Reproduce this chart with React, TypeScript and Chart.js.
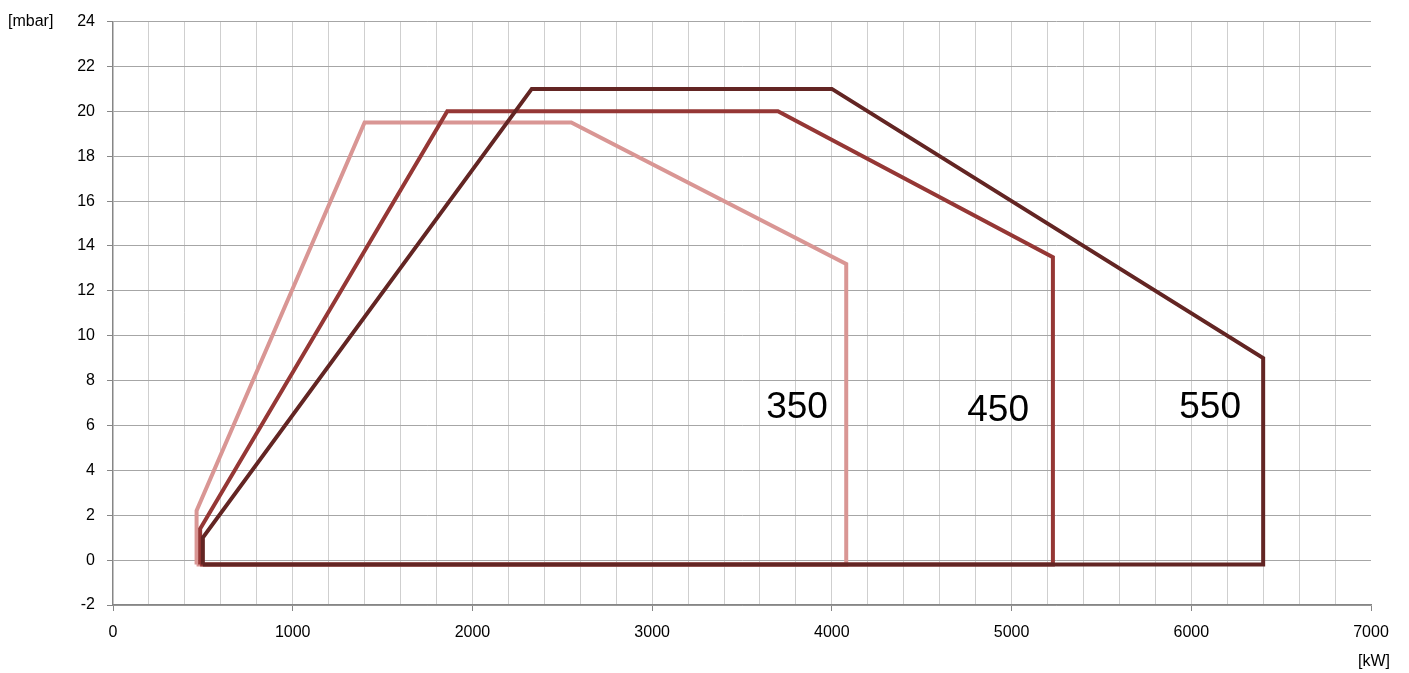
import React, { useEffect, useRef } from "react";
import { Chart, registerables } from "chart.js";

Chart.register(...registerables);

// ---- data ----
const series350X = [465, 465, 1400, 2550, 4080, 4080, 465];
const series350Y = [-0.2, 2.2, 19.5, 19.5, 13.2, -0.2, -0.2];

const series450X = [485, 485, 1860, 3700, 5230, 5230, 485];
const series450Y = [-0.2, 1.4, 20, 20, 13.5, -0.2, -0.2];

const series550X = [500, 500, 2330, 4000, 6400, 6400, 500];
const series550Y = [-0.2, 1.0, 21, 21, 9, -0.2, -0.2];

const seriesNames = ["350", "450", "550"];
const xTickLabelStep = 1000;
const xUnit = "[kW]";
const yUnit = "[mbar]";

// label anchors (data coordinates)
const nameAnchorX = [3806, 4925, 6105];
const nameAnchorY = [6.8, 6.65, 6.8];

const FONT = "'Liberation Sans', Arial, sans-serif";

const pts = (xs: number[], ys: number[]) => xs.map((x, i) => ({ x, y: ys[i] }));

export default function App() {
  const ref = useRef<HTMLCanvasElement | null>(null);

  useEffect(() => {
    document.body.style.margin = "0";
    if (!ref.current) return;

    const textPlugin = {
      id: "texts",
      afterDatasetsDraw(chart: any) {
        const { ctx, scales } = chart;
        const xs = scales.x;
        const ys = scales.y;
        ctx.save();
        ctx.fillStyle = "#000";
        ctx.font = `37px ${FONT}`;
        ctx.textAlign = "center";
        ctx.textBaseline = "middle";
        seriesNames.forEach((n, i) => {
          ctx.fillText(n, xs.getPixelForValue(nameAnchorX[i]), ys.getPixelForValue(nameAnchorY[i]));
        });
        ctx.font = `16px ${FONT}`;
        ctx.textAlign = "left";
        ctx.fillText(yUnit, 8, ys.getPixelForValue(24));
        ctx.textAlign = "right";
        ctx.fillText(xUnit, xs.right + 19, ys.bottom + 57);
        ctx.restore();
      },
    };

    const common = {
      showLine: true,
      borderWidth: 4,
      pointRadius: 0,
      borderJoinStyle: "miter",
      fill: false,
    };

    const chart = new Chart(ref.current, {
      type: "scatter",
      data: {
        datasets: [
          { ...common, label: seriesNames[2], data: pts(series550X, series550Y), borderColor: "#632523" },
          { ...common, label: seriesNames[1], data: pts(series450X, series450Y), borderColor: "#953735" },
          { ...common, label: seriesNames[0], data: pts(series350X, series350Y), borderColor: "#D99694" },
        ],
      },
      options: {
        animation: false,
        responsive: true,
        maintainAspectRatio: false,
        layout: { padding: { left: 0, right: 38, top: 19, bottom: 0 } },
        plugins: {
          legend: { display: false },
          tooltip: { enabled: false },
        },
        scales: {
          x: {
            type: "linear",
            min: 0,
            max: 7000,
            afterFit: (s: any) => {
              s.height = 68;
            },
            ticks: {
              stepSize: 200,
              autoSkip: false,
              maxRotation: 0,
              padding: 12,
              color: "#000",
              font: { family: FONT, size: 16 },
              callback: (v: any) => (Number(v) % xTickLabelStep === 0 ? String(v) : ""),
            },
            grid: {
              color: (c: any) => {
                const v = c.tick?.value;
                if (v === 0 || v === 7000) return "rgba(0,0,0,0)";
                return "#cfcfcf";
              },
              tickColor: (c: any) =>
                c.tick && c.tick.value % xTickLabelStep === 0 ? "#868686" : "rgba(0,0,0,0)",
              tickLength: 6,
              lineWidth: 1,
            },
            border: { color: "#868686", width: 1.5 },
          },
          y: {
            type: "linear",
            min: -2,
            max: 24,
            afterFit: (s: any) => {
              s.width = 113;
            },
            ticks: {
              stepSize: 2,
              padding: 12,
              color: "#000",
              font: { family: FONT, size: 16 },
            },
            grid: {
              color: "#a6a6a6",
              tickColor: "#868686",
              tickLength: 6,
              lineWidth: 1,
            },
            border: { color: "#868686", width: 1.5 },
          },
        },
      },
      plugins: [textPlugin],
    } as any);

    return () => chart.destroy();
  }, []);

  return (
    <div style={{ position: "absolute", left: 0, top: 0, width: 1409, height: 673, background: "#fff" }}>
      <canvas ref={ref} />
    </div>
  );
}
